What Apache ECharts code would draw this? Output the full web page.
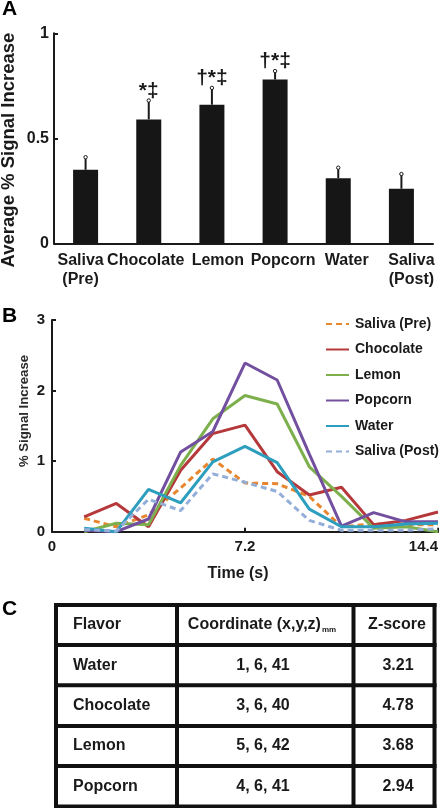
<!DOCTYPE html>
<html><head><meta charset="utf-8">
<script src="https://cdn.jsdelivr.net/npm/echarts@6/dist/echarts.min.js"></script>
<style>html,body{margin:0;padding:0;background:#fff}#c{width:446px;height:808px}</style>
</head><body><div id="c"></div>
<script>
// ---------- Panel A data ----------
const barCategories = ['Saliva\n(Pre)', 'Chocolate', 'Lemon', 'Popcorn', 'Water', 'Saliva\n(Post)'];
const barMeans = [0.35, 0.59, 0.66, 0.78, 0.31, 0.26];
const barErrors = [0.06, 0.09, 0.08, 0.04, 0.05, 0.07];
const barMarks = ['', '*‡', '†*‡', '†*‡', '', ''];
const barTicks = [0, 0.5, 1];

// ---------- Panel B data ----------
const timePoints = [1.2, 2.4, 3.6, 4.8, 6.0, 7.2, 8.4, 9.6, 10.8, 12.0, 13.2, 14.4];
const seriesNames = ['Saliva (Pre)', 'Chocolate', 'Lemon', 'Popcorn', 'Water', 'Saliva (Post)'];
const salivaPre = [0.19, 0.07, 0.24, 0.62, 1.03, 0.69, 0.68, 0.50, 0.07, 0.11, 0.10, 0.10];
const chocolate = [0.21, 0.40, 0.07, 0.87, 1.39, 1.51, 0.85, 0.52, 0.63, 0.10, 0.16, 0.28];
const lemon = [0.00, 0.12, 0.10, 0.94, 1.60, 1.93, 1.81, 0.92, 0.50, 0.05, 0.07, 0.00];
const popcorn = [0.02, 0.00, 0.18, 1.13, 1.42, 2.39, 2.15, 1.10, 0.08, 0.27, 0.14, 0.14];
const water = [0.05, 0.00, 0.60, 0.41, 0.99, 1.21, 0.98, 0.32, 0.07, 0.07, 0.11, 0.12];
const salivaPost = [0.03, 0.01, 0.46, 0.30, 0.82, 0.70, 0.57, 0.16, 0.02, 0.02, 0.02, 0.04];
const lineTicks = [0, 7.2, 14.4];

// ---------- Panel C data ----------
const tableHeader = ['Flavor', 'Coordinate (x,y,z)', 'Z-score'];
const tableSubscript = 'mm';
const tableFlavors = ['Water', 'Chocolate', 'Lemon', 'Popcorn'];
const tableCoords = ['1, 6, 41', '3, 6, 40', '5, 6, 42', '4, 6, 41'];
const tableZ = ['3.21', '4.78', '3.68', '2.94'];

// ---------- styles ----------
const FONT = '"Liberation Sans", Arial, Helvetica, sans-serif';
const INK = '#1a1a1a';
const lineColors = ['#E8852F', '#B5393B', '#7DB04C', '#72509F', '#2D9EBE', '#93AED8'];
const lineDashed = [true, false, false, false, false, true];
const categoryLabelShift = [-5, -3, 6, 8, 8.5, 10];
const lineData = [salivaPre, chocolate, lemon, popcorn, water, salivaPost];

const chart = echarts.init(document.getElementById('c'), null, {renderer: 'canvas'});

const lineSeries = seriesNames.map((name, k) => ({
  name: name,
  type: 'line',
  xAxisIndex: 1, yAxisIndex: 1,
  symbol: 'none',
  z: 3,
  data: timePoints.map((t, i) => [t, lineData[k][i]]),
  lineStyle: {color: lineColors[k], width: 3, type: lineDashed[k] ? [6, 4] : 'solid'},
  itemStyle: {color: lineColors[k]}
}));

const categoryItems = barCategories.map((c, i) => {
  const s = categoryLabelShift[i];
  return {value: c, textStyle: {padding: s < 0 ? [0, -2 * s, 0, 0] : [0, 0, 0, 2 * s]}};
});

// Table graphics
const tableX = [56, 177, 353.5, 434.5];
const tableY = [605, 645, 685.3, 726, 766, 806.5];
const tableG = [];
tableX.forEach(x => tableG.push({type: 'line', shape: {x1: x, y1: 603, x2: x, y2: 808}, style: {stroke: '#111', lineWidth: 4}}));
tableY.forEach(y => tableG.push({type: 'line', shape: {x1: 54, y1: y, x2: 436.5, y2: y}, style: {stroke: '#111', lineWidth: 4}}));
const rowCenters = tableY.slice(0, 5).map((y, i) => (y + tableY[i + 1]) / 2);
const tStyle = (txt, align) => ({text: txt, fontSize: 16, fontWeight: 'bold', fontFamily: FONT, fill: INK, align: align, verticalAlign: 'middle'});
tableG.push({type: 'text', x: 73, y: rowCenters[0], style: tStyle(tableHeader[0], 'left')});
tableG.push({type: 'text', x: 262, y: rowCenters[0], style: {
  text: '{m|' + tableHeader[1] + '}{s|' + tableSubscript + '}',
  align: 'center', verticalAlign: 'middle', fill: INK, fontFamily: FONT,
  rich: {
    m: {fontSize: 16, fontWeight: 'bold', fontFamily: FONT, fill: INK, lineHeight: 18},
    s: {fontSize: 8, fontWeight: 'bold', fontFamily: FONT, fill: INK, lineHeight: 8, verticalAlign: 'bottom', padding: [0, 0, 0, 1]}
  }
}});
tableG.push({type: 'text', x: 397, y: rowCenters[0], style: tStyle(tableHeader[2], 'center')});
tableFlavors.forEach((f, i) => {
  const y = rowCenters[i + 1];
  tableG.push({type: 'text', x: 73, y: y, style: tStyle(f, 'left')});
  tableG.push({type: 'text', x: 263, y: y, style: tStyle(tableCoords[i], 'center')});
  tableG.push({type: 'text', x: 398, y: y, style: tStyle(tableZ[i], 'center')});
});

const letter = (t, y) => ({type: 'text', x: 2, y: y, style: {text: t, fontSize: 21, fontWeight: 'bold', fontFamily: FONT, fill: '#000', align: 'left', verticalAlign: 'middle'}});
const yName = (t, x, y, size, weight, color) => ({type: 'text', x: x, y: y, rotation: Math.PI / 2,
  style: {text: t, fontSize: size, fontWeight: weight, fontFamily: FONT, fill: color, align: 'center', verticalAlign: 'middle'}});

const option = {
  animation: false,
  backgroundColor: '#fff',
  textStyle: {fontFamily: FONT},
  grid: [
    {left: 54, right: 13, top: 33.3, height: 210},
    {left: 52, right: 8, top: 320, height: 211.7}
  ],
  xAxis: [
    {
      gridIndex: 0, type: 'category', data: categoryItems,
      axisLine: {lineStyle: {color: INK, width: 2}},
      axisTick: {show: false},
      axisLabel: {color: INK, fontSize: 16, fontWeight: 'bold', fontFamily: FONT, margin: 8, lineHeight: 19, interval: 0}
    },
    {
      gridIndex: 1, type: 'value', min: lineTicks[0], max: lineTicks[2], interval: lineTicks[1],
      splitLine: {show: false},
      axisLine: {lineStyle: {color: INK, width: 2}},
      axisTick: {inside: true, length: 4, lineStyle: {color: INK, width: 2}},
      axisLabel: {color: INK, fontSize: 15, fontWeight: 'bold', fontFamily: FONT, margin: 8, alignMaxLabel: 'right',
        formatter: v => String(v)},
      name: 'Time (s)', nameLocation: 'middle', nameGap: 34,
      nameTextStyle: {color: INK, fontSize: 16, fontWeight: 'bold', fontFamily: FONT, padding: [0, 14, 0, 0]}
    }
  ],
  yAxis: [
    {
      gridIndex: 0, type: 'value', min: barTicks[0], max: barTicks[2], interval: barTicks[1],
      splitLine: {show: false},
      axisLine: {show: true, lineStyle: {color: INK, width: 2}},
      axisTick: {show: true, inside: true, length: 4, lineStyle: {color: INK, width: 2}},
      axisLabel: {color: INK, fontSize: 16, fontWeight: 'bold', fontFamily: FONT, margin: 5, formatter: v => String(v)}
    },
    {
      gridIndex: 1, type: 'value', min: 0, max: 3, interval: 1,
      splitLine: {show: false},
      axisLine: {show: true, lineStyle: {color: INK, width: 2}},
      axisTick: {show: true, inside: true, length: 4, lineStyle: {color: INK, width: 2}},
      axisLabel: {color: INK, fontSize: 15, fontWeight: 'bold', fontFamily: FONT, margin: 7}
    }
  ],
  legend: {
    data: seriesNames,
    orient: 'vertical',
    left: 325, top: 317,
    padding: 0,
    itemWidth: 23, itemHeight: 14, itemGap: 11.5,
    itemStyle: {opacity: 0},
    textStyle: {color: INK, fontSize: 14, fontWeight: 'bold', fontFamily: FONT, padding: [0, 0, 0, 1]}
  },
  graphic: [
    letter('A', 9), letter('B', 316), letter('C', 609),
    yName('Average % Signal Increase', 9, 150, 18.5, 'bold', INK),
    yName('% Signal Increase', 24, 411, 13.2, 'bold', '#2a2a2a')
  ].concat(tableG),
  series: [
    {
      type: 'bar', xAxisIndex: 0, yAxisIndex: 0,
      data: barMeans, barWidth: 25,
      itemStyle: {color: '#161616'}
    },
    {
      type: 'custom', xAxisIndex: 0, yAxisIndex: 0, z: 5,
      encode: {x: 0, y: [1, 2]},
      data: barMeans.map((m, i) => [i, m, m + barErrors[i]]),
      renderItem: function (params, api) {
        const base = api.coord([api.value(0), api.value(1)]);
        const top = api.coord([api.value(0), api.value(2)]);
        const mark = barMarks[params.dataIndex];
        const children = [
          {type: 'line', shape: {x1: base[0], y1: base[1], x2: top[0], y2: top[1]}, style: {stroke: INK, lineWidth: 2}},
          {type: 'circle', shape: {cx: top[0], cy: top[1], r: 1.7}, style: {fill: '#fff', stroke: INK, lineWidth: 1}}
        ];
        if (mark) {
          children.push({type: 'text', x: top[0], y: top[1] + 1,
            style: {text: mark, fontSize: 21, fontWeight: 'bold', fontFamily: FONT, fill: INK, align: 'center', verticalAlign: 'bottom'}});
        }
        return {type: 'group', children: children};
      }
    }
  ].concat(lineSeries)
};
chart.setOption(option);
</script>
</body></html>
